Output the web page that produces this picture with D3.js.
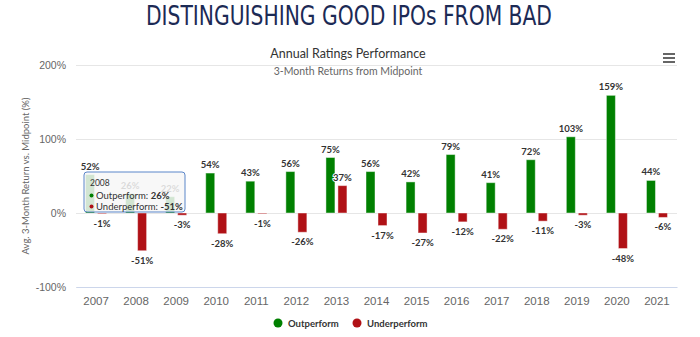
<!DOCTYPE html>
<html>
<head>
<meta charset="utf-8">
<script src="https://cdn.jsdelivr.net/npm/d3@7"></script>
<style>
  body { margin: 0; background: #fff; }
  svg { display: block; font-family: Lato, "Open Sans", sans-serif; }
</style>
</head>
<body>
<svg id="chart" width="700" height="337"></svg>
<script>
let years = ['2007', '2008', '2009', '2010', '2011', '2012', '2013', '2014', '2015', '2016', '2017', '2018', '2019', '2020', '2021']
let outperform = [52, 26, 22, 54, 43, 56, 75, 56, 42, 79, 41, 72, 103, 159, 44]
let underperform = [-1, -51, -3, -28, -1, -26, 37, -17, -27, -12, -22, -11, -3, -48, -6]
let yTicks = [-100, 0, 100, 200]
let seriesNames = ['Outperform', 'Underperform']
let seriesColors = ['#008000', '#b01116']

let svg = d3.select('#chart')
let plotLeft = 76, plotRight = 677, plotTop = 65, plotBottom = 287

let x = d3.scaleBand().domain(years).range([plotLeft, plotRight])
let x1 = d3.scaleBand().domain(seriesNames).range([-10.5, 10.5]).paddingInner(0.25)
let y = d3.scaleLinear().domain([-100, 200]).range([plotBottom, plotTop])

// title block
svg.append('text')
    .attr('x', 349).attr('y', 25)
    .attr('text-anchor', 'middle')
    .attr('font-family', '"Liberation Sans Narrow", "DejaVu Sans Condensed", "Roboto", sans-serif')
    .attr('font-size', 26)
    .attr('fill', '#1c2a55')
    .attr('textLength', 406)
    .attr('lengthAdjust', 'spacingAndGlyphs')
    .text('DISTINGUISHING GOOD IPOs FROM BAD')

svg.append('text')
    .attr('x', 348).attr('y', 58)
    .attr('text-anchor', 'middle')
    .attr('font-size', 12.5)
    .attr('fill', '#333')
    .text('Annual Ratings Performance')

svg.append('text')
    .attr('x', 348).attr('y', 75)
    .attr('text-anchor', 'middle')
    .attr('font-size', 10.5)
    .attr('fill', '#666')
    .text('3-Month Returns from Midpoint')

// menu icon
svg.append('g').selectAll('rect')
    .data([0, 1, 2])
    .enter()
    .append('rect')
    .attr('x', 663).attr('y', d => 53 + d * 4)
    .attr('width', 12).attr('height', 2)
    .attr('fill', '#666')

// grid
let yAxis = d3.axisLeft(y).tickValues(yTicks).tickFormat(d => d + '%').tickSize(-(plotRight - plotLeft)).tickPadding(10)
let gy = svg.append('g').attr('transform', `translate(${plotLeft},0)`).call(yAxis)
gy.select('.domain').remove()
gy.selectAll('.tick line').attr('stroke', '#e6e6e6')
gy.selectAll('.tick text').attr('fill', '#666').attr('font-size', 10.5)

let xAxis = d3.axisBottom(x).tickSize(0).tickPadding(10)
let gx = svg.append('g').attr('transform', `translate(0,${plotBottom})`).call(xAxis)
gx.select('.domain').attr('stroke', '#ccd6eb')
gx.selectAll('.tick text').attr('fill', '#666').attr('font-size', 11.5)

svg.append('text')
    .attr('transform', `translate(29,${(plotTop + plotBottom) / 2}) rotate(-90)`)
    .attr('text-anchor', 'middle')
    .attr('font-size', 9.5)
    .attr('fill', '#666')
    .text('Avg. 3-Month Return vs. Midpoint (%)')

// bars
let rows = []
years.forEach((yr, i) => {
    rows.push({ year: yr, series: 'Outperform', value: outperform[i], color: seriesColors[0] })
    rows.push({ year: yr, series: 'Underperform', value: underperform[i], color: seriesColors[1] })
})

let bars = svg.append('g')
bars.selectAll('rect')
    .data(rows)
    .enter()
    .append('rect')
    .attr('x', d => x(d.year) + x.bandwidth() / 2 + x1(d.series))
    .attr('width', x1.bandwidth())
    .attr('y', d => y(Math.max(0, d.value)))
    .attr('height', d => Math.abs(y(d.value) - y(0)))
    .attr('fill', d => d.color)
    .attr('stroke', 'rgba(255,255,255,0.45)')
    .attr('stroke-width', 1)

bars.selectAll('text')
    .data(rows)
    .enter()
    .append('text')
    .attr('x', d => x(d.year) + x.bandwidth() / 2 + x1(d.series) + x1.bandwidth() / 2)
    .attr('y', d => d.value >= 0 ? y(d.value) - 5 : y(d.value) + 13)
    .attr('text-anchor', 'middle')
    .attr('font-size', 9.5)
    .attr('font-weight', 'bold')
    .attr('fill', '#333')
    .attr('stroke', '#fff')
    .attr('stroke-width', 2)
    .attr('paint-order', 'stroke')
    .text(d => d.value + '%')

// legend
let legend = svg.append('g')
let legendX = [278, 357]
seriesNames.forEach((name, i) => {
    legend.append('circle')
        .attr('cx', legendX[i]).attr('cy', 323).attr('r', 4.5)
        .attr('fill', seriesColors[i])
    legend.append('text')
        .attr('x', legendX[i] + 10).attr('y', 326.5)
        .attr('font-size', 9.5)
        .attr('font-weight', 'bold')
        .attr('fill', '#333')
        .text(name)
})

// hover tooltip for 2008
let tipIndex = 1
let tip = svg.append('g').attr('transform', 'translate(84,172)')
tip.append('rect')
    .attr('width', 101).attr('height', 40)
    .attr('rx', 3)
    .attr('fill', 'rgba(247,247,247,0.85)')
    .attr('stroke', '#5b86c9')
    .attr('stroke-width', 1)
tip.append('text')
    .attr('x', 6).attr('y', 14)
    .attr('font-size', 8.5)
    .attr('fill', '#333')
    .text(years[tipIndex])
let tipValues = [outperform[tipIndex], underperform[tipIndex]]
seriesNames.forEach((name, i) => {
    tip.append('circle')
        .attr('cx', 7.5).attr('cy', 23.5 + i * 11).attr('r', 2)
        .attr('fill', seriesColors[i])
    let t = tip.append('text')
        .attr('x', 12).attr('y', 27 + i * 11)
        .attr('font-size', 9.5)
        .attr('fill', '#333')
    t.append('tspan').text(name + ': ')
    t.append('tspan').attr('font-weight', 'bold').text(tipValues[i] + '%')
})
</script>
</body>
</html>
